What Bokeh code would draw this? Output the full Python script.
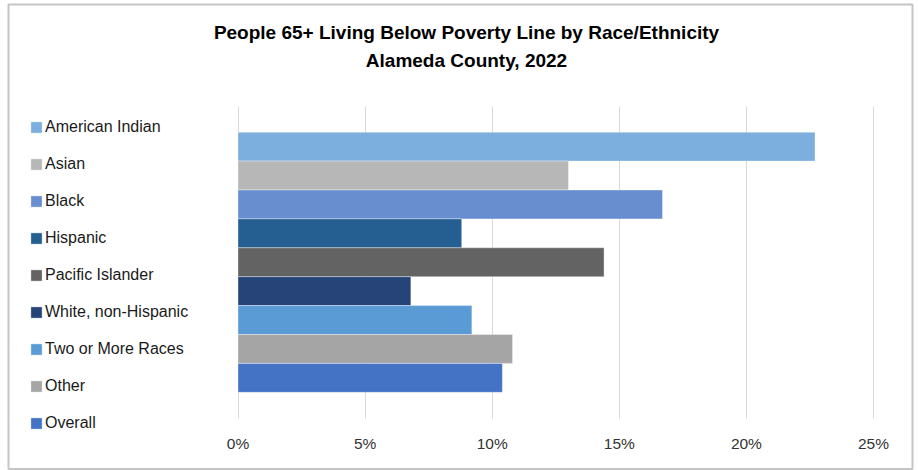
from bokeh.plotting import figure
from bokeh.models import (ColumnDataSource, Range1d, FixedTicker, NumeralTickFormatter,
                          Legend, LegendItem, Label, BoxAnnotation)
from bokeh.embed import file_html
from bokeh.resources import INLINE

title_line1 = "People 65+ Living Below Poverty Line by Race/Ethnicity"
title_line2 = "Alameda County, 2022"

groups = ["American Indian", "Asian", "Black", "Hispanic", "Pacific Islander",
          "White, non-Hispanic", "Two or More Races", "Other", "Overall"]
rates = [0.227, 0.130, 0.167, 0.088, 0.144, 0.068, 0.092, 0.108, 0.104]
colors = ["#7CAFDD", "#B7B7B7", "#698ED0", "#255E91", "#636363",
          "#264478", "#5B9BD5", "#A5A5A5", "#4472C4"]
x_ticks = [0, 0.05, 0.10, 0.15, 0.20, 0.25]

FONT = "Liberation Sans"
W, H = 918, 470

# layout (pixels) -> data conversions
X0_PX, X_PER_UNIT = 237.5, 2542.0        # pixel of 0 %, pixels per 1.0
BAR_TOP_PX, BAR_PX = 131.7, 28.9         # first bar top, one bar height


def x_at(px):
    return (px - X0_PX) / X_PER_UNIT


def y_at(px):
    return (px - BAR_TOP_PX) / BAR_PX - 0.5


src = ColumnDataSource(dict(pos=list(range(len(groups))), rate=rates,
                            color=colors, group=groups))

p = figure(width=W, height=H, output_backend="svg", toolbar_location=None,
           x_range=Range1d(x_at(0), x_at(W)), y_range=Range1d(y_at(H), y_at(0)),
           min_border=0)
p.outline_line_color = None
p.background_fill_color = "white"
p.border_fill_color = "white"

r = p.hbar(y="pos", right="rate", left=0, height=1.0, color="color",
           line_color="white", line_alpha=0.35, line_width=1, source=src)

p.yaxis.visible = False
p.ygrid.visible = False
p.xgrid.grid_line_color = "#D9D9D9"
p.xgrid.grid_line_width = 1
p.xgrid.cross_bounds = (y_at(106), y_at(418))

ax = p.xaxis[0]
ax.fixed_location = y_at(418)
ax.ticker = FixedTicker(ticks=x_ticks)
ax.formatter = NumeralTickFormatter(format="0%")
ax.axis_line_color = None
ax.major_tick_line_color = None
ax.minor_tick_line_color = None
ax.major_tick_out = 0
ax.minor_tick_out = 0
ax.major_label_standoff = 16
ax.major_label_text_font = FONT
ax.major_label_text_font_size = "15.5px"
ax.major_label_text_color = "#333333"

items = [LegendItem(label=g, renderers=[r], index=i) for i, g in enumerate(groups)]
legend = Legend(items=items, location=(29, H - 433), orientation="vertical",
                glyph_width=14, glyph_height=14, label_height=20, spacing=17,
                label_standoff=2, padding=0, margin=0,
                border_line_color=None, background_fill_alpha=0,
                label_text_font=FONT, label_text_font_size="16px",
                label_text_color="#1A1A1A")
p.add_layout(legend, "center")

for txt, ypx in [(title_line1, 32), (title_line2, 60)]:
    p.add_layout(Label(x=466, y=H - ypx, x_units="screen", y_units="screen",
                       text=txt, text_align="center", text_baseline="middle",
                       text_font=FONT, text_font_style="bold", text_font_size="19px",
                       text_color="#000000"))

p.add_layout(BoxAnnotation(left=8, right=912, top=H - 4, bottom=H - 468.5,
                           left_units="screen", right_units="screen",
                           top_units="screen", bottom_units="screen",
                           fill_alpha=0, line_color="#404040", line_width=2))

open("out.html", "w").write(file_html(p, INLINE))
